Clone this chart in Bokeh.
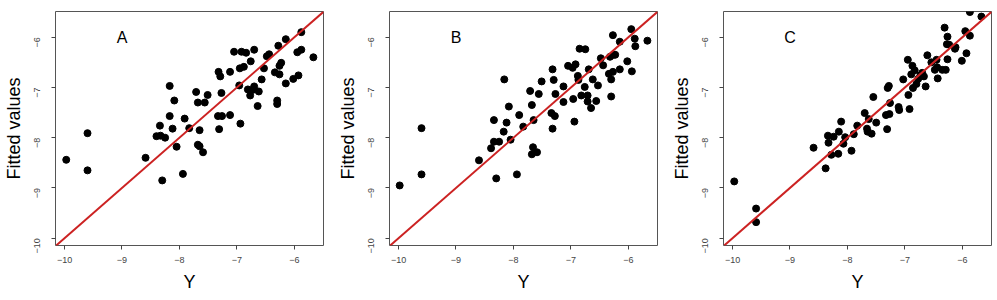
import math
from bokeh.plotting import figure
from bokeh.models import Range1d, FixedTicker, Slope, Label
from bokeh.layouts import row
from bokeh.embed import file_html
from bokeh.resources import INLINE

# ---------------- data ----------------
tick_values = [-10, -9, -8, -7, -6]
panel_labels = ["A", "B", "C"]

a_obs = [-9.97, -9.60, -9.60, -8.59, -8.30, -8.40, -8.34, -8.33, -8.25, -8.17,
         -8.17, -8.12, -8.09, -8.05, -7.94, -7.91, -7.83, -7.71, -7.68, -7.68,
         -7.65, -7.65, -7.59, -7.56, -7.51, -7.33, -7.32, -7.31, -7.29, -7.27,
         -7.26, -7.12, -7.12, -7.05, -6.96, -6.95, -6.94, -6.92, -6.88, -6.84,
         -6.81, -6.77, -6.76, -6.73, -6.70, -6.70, -6.64, -6.62, -6.57, -6.53,
         -6.48, -6.44, -6.34, -6.30, -6.30, -6.28, -6.26, -6.26, -6.23, -6.15,
         -6.15, -6.02, -5.95, -5.93, -5.88, -5.88, -5.67]
a_fit = [-8.44, -7.91, -8.65, -8.40, -8.85, -7.97, -7.76, -7.96, -8.00, -7.57,
         -6.97, -7.82, -7.26, -8.18, -8.72, -7.62, -7.81, -7.09, -7.30, -8.14,
         -8.17, -7.85, -8.29, -7.30, -7.15, -7.57, -6.69, -7.83, -6.78, -7.11,
         -7.57, -7.55, -6.69, -6.29, -6.96, -6.62, -7.72, -6.29, -6.59, -6.31,
         -7.04, -7.16, -6.48, -7.05, -6.25, -6.98, -7.37, -7.08, -6.84, -6.62,
         -6.38, -6.34, -6.70, -7.26, -7.33, -6.17, -6.74, -6.57, -6.51, -6.92,
         -6.04, -6.83, -6.30, -6.76, -5.90, -6.25, -6.40]

b_obs = [-9.98, -9.60, -9.60, -8.60, -8.39, -8.34, -8.34, -8.30, -8.25, -8.17,
         -8.16, -8.12, -8.08, -8.05, -7.94, -7.90, -7.83, -7.71, -7.68, -7.68,
         -7.66, -7.65, -7.59, -7.56, -7.51, -7.34, -7.32, -7.32, -7.30, -7.28,
         -7.27, -7.13, -7.13, -7.05, -6.97, -6.96, -6.94, -6.92, -6.88, -6.87,
         -6.85, -6.82, -6.76, -6.75, -6.71, -6.71, -6.69, -6.65, -6.62, -6.56,
         -6.53, -6.48, -6.44, -6.34, -6.32, -6.30, -6.30, -6.27, -6.27, -6.26,
         -6.23, -6.15, -6.15, -6.02, -5.95, -5.94, -5.89, -5.88, -5.67]
b_fit = [-8.95, -7.81, -8.73, -8.45, -8.21, -7.65, -8.08, -8.81, -8.08, -7.88,
         -6.84, -7.70, -7.38, -8.04, -8.73, -7.55, -7.78, -7.07, -7.35, -8.33,
         -8.19, -7.65, -8.29, -7.13, -6.88, -7.51, -6.64, -7.82, -6.85, -7.57,
         -7.13, -6.98, -7.29, -6.57, -6.61, -7.23, -7.68, -6.54, -6.77, -6.85,
         -6.23, -7.16, -6.99, -6.24, -7.16, -7.28, -6.64, -7.41, -6.84, -7.27,
         -6.96, -6.42, -6.56, -6.73, -6.39, -7.18, -6.84, -5.96, -6.69, -6.35,
         -6.35, -6.64, -6.09, -6.48, -5.84, -6.68, -6.03, -6.18, -6.07]

c_obs = [-9.97, -9.59, -9.59, -8.59, -8.38, -8.34, -8.33, -8.28, -8.24, -8.16,
         -8.15, -8.11, -8.07, -8.04, -7.93, -7.89, -7.83, -7.70, -7.66, -7.65,
         -7.63, -7.58, -7.55, -7.50, -7.33, -7.31, -7.30, -7.28, -7.27, -7.26,
         -7.11, -7.10, -7.03, -6.95, -6.94, -6.92, -6.89, -6.87, -6.86, -6.83,
         -6.80, -6.77, -6.73, -6.70, -6.67, -6.64, -6.61, -6.54, -6.48, -6.45,
         -6.44, -6.43, -6.35, -6.31, -6.29, -6.27, -6.26, -6.26, -6.23, -6.13,
         -6.12, -6.01, -5.93, -5.95, -5.87, -5.87, -5.67]
c_fit = [-8.87, -9.41, -9.68, -8.20, -8.61, -7.96, -8.10, -8.34, -7.98, -8.32,
         -7.88, -7.68, -8.12, -7.99, -8.26, -7.93, -7.76, -7.51, -7.82, -7.88,
         -7.63, -7.92, -7.19, -7.70, -7.55, -7.83, -7.01, -6.97, -7.53, -7.31,
         -7.39, -7.45, -6.84, -6.45, -7.15, -7.43, -6.74, -6.57, -7.01, -6.66,
         -6.93, -6.83, -6.76, -6.71, -6.78, -6.98, -6.36, -6.50, -6.65, -6.45,
         -6.60, -6.82, -6.65, -5.81, -6.65, -6.14, -6.44, -5.99, -6.15, -6.23,
         -6.20, -6.47, -6.32, -5.88, -5.97, -5.50, -5.59]

panels = [(a_obs, a_fit), (b_obs, b_fit), (c_obs, c_fit)]

FONT = "Liberation Sans"
GRAY = "#444444"


def make_panel(obs, fit, letter, border_right):
    p = figure(width=54 + 268 + border_right, height=300,
               frame_width=268, frame_height=234,
               x_range=Range1d(-10.157, -5.494), y_range=Range1d(-10.145, -5.489),
               output_backend="svg", toolbar_location=None,
               min_border_left=54, min_border_right=border_right,
               min_border_top=11, min_border_bottom=55,
               background_fill_color="white", border_fill_color="white")
    p.xgrid.visible = False
    p.ygrid.visible = False
    p.outline_line_color = "#555555"
    p.outline_line_width = 1

    for ax in (p.xaxis[0], p.yaxis[0]):
        ax.ticker = FixedTicker(ticks=tick_values)
        ax.axis_line_color = None
        ax.major_tick_line_color = GRAY
        ax.major_tick_in = 0
        ax.major_tick_out = 4
        ax.minor_tick_line_color = None
        ax.major_label_text_font = FONT
        ax.major_label_text_font_size = "9px"
        ax.major_label_text_color = GRAY
        ax.axis_label_text_font = FONT
        ax.axis_label_text_font_size = "18px"
        ax.axis_label_text_font_style = "normal"
        ax.axis_label_text_color = "black"

    p.xaxis.axis_label = "Y"
    p.xaxis.major_label_standoff = 7
    p.xaxis.axis_label_standoff = 6
    p.yaxis.axis_label = "Fitted values"
    p.yaxis.major_label_orientation = math.pi / 2
    p.yaxis.major_label_standoff = 14
    p.yaxis.axis_label_standoff = 5

    p.add_layout(Slope(gradient=1, y_intercept=0, line_color="#cc2222", line_width=2))
    p.scatter(obs, fit, size=7, color="black")
    p.add_layout(Label(x=-9.0, y=-6.0, text=letter, text_font=FONT,
                       text_font_size="16px", text_align="center",
                       text_baseline="middle", text_color="black"))
    return p


figs = []
for i, (obs, fit) in enumerate(panels):
    br = 11 if i < 2 else 9
    figs.append(make_panel(obs, fit, panel_labels[i], br))

layout = row(*figs)
open("out.html", "w").write(file_html(layout, INLINE))
